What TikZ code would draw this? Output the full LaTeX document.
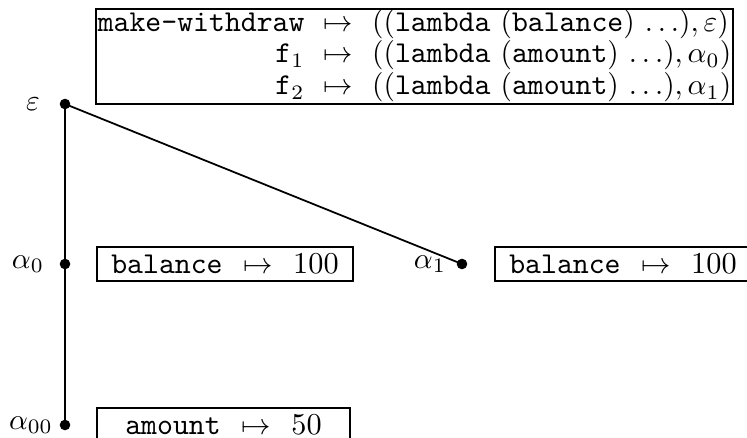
\documentclass[tikz,border=0pt]{standalone}
\usepackage{amsmath,amssymb}
\usetikzlibrary{positioning}

\begin{document}
\begin{tikzpicture}[
    x=0.34pt, y=-0.34pt,
    font=\fontsize{10.3pt}{12pt}\selectfont,
    dot/.style={circle, fill=black, inner sep=0pt, minimum size=3.6pt},
    frame/.style={draw, line width=0.85pt, inner sep=0pt, minimum width=#1, minimum height=11.6pt},
    frame/.default=87pt,
    link/.style={line width=0.6pt},
    lbl/.style={inner sep=0pt},
  ]
  \useasboundingbox (0,0) rectangle (747,438);

  % environment table
  \node[frame=216.6pt, minimum height=32.3pt] (env) at (414.5,56.5) {%
    \def\arraystretch{0.9}%
    \begin{tabular}{@{}r@{\hspace{6.5pt}}c@{\hspace{6.5pt}}l@{}}
      \texttt{make-withdraw} & $\mapsto$ & $(($\texttt{lambda} $($\texttt{balance}$)$ $\ldots), \varepsilon)$ \\
      \texttt{f}$_1$ & $\mapsto$ & $(($\texttt{lambda} $($\texttt{amount}$)$ $\ldots), \alpha_0)$ \\
      \texttt{f}$_2$ & $\mapsto$ & $(($\texttt{lambda} $($\texttt{amount}$)$ $\ldots), \alpha_1)$
    \end{tabular}};

  % frames
  \node[dot] (eps) at (65,104) {};
  \node[dot] (a0) at (65,264) {};
  \node[dot] (a00) at (65,425) {};
  \node[dot] (a1) at (462,264) {};

  \node[lbl] (epslbl) at (33,104) {$\varepsilon$};
  \node[lbl] (a0lbl) at (28,264) {$\alpha_0$};
  \node[lbl] (a00lbl) at (31,425) {$\alpha_{00}$};
  \node[lbl] (a1lbl) at (430,264) {$\alpha_1$};

  \draw[link] (eps.center) -- (a0.center) -- (a00.center);
  \draw[link] (eps.center) -- (a1.center);

  % bindings
  \node[frame] (bal0) at (225,264) {\texttt{balance}\hspace{7pt}$\mapsto$\hspace{7pt}100};
  \node[frame] (bal1) at (623,264) {\texttt{balance}\hspace{7pt}$\mapsto$\hspace{7pt}100};
  \node[frame=86pt] (amt) at (223.5,425) {\texttt{amount}\hspace{7pt}$\mapsto$\hspace{7pt}50};

\end{tikzpicture}
\end{document}
